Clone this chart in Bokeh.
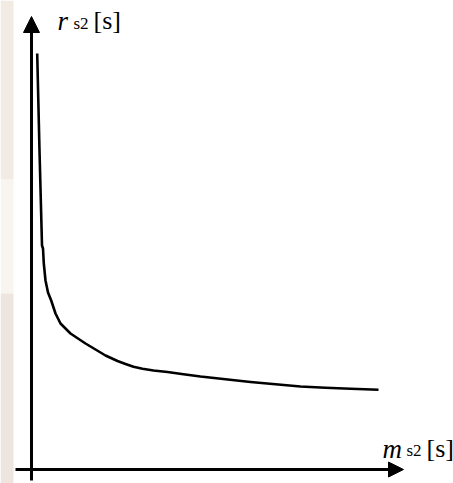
from bokeh.plotting import figure
from bokeh.models import Range1d, Arrow, NormalHead
from bokeh.core.properties import value
from bokeh.embed import file_html
from bokeh.resources import INLINE

# curve data (m_s2 vs r_s2), arbitrary units
ms2 = [5.7, 8, 10.5, 11.5, 12.3, 14, 16.5, 19.7, 24, 29, 39, 54, 74, 86, 94, 102, 111, 122, 136,
       152, 169, 194, 219, 244, 269, 294, 319, 347]
rs2 = [416, 319, 224, 221, 206, 189, 177, 169, 156, 146, 136, 126, 114, 108.5, 105.5, 102.7, 100.7,
       99, 97.5, 95.3, 93, 90.2, 87.5, 85.2, 83, 81.7, 80.7, 79.7]

# axis extents
x_axis_start, x_axis_end = -16, 372
y_axis_start, y_axis_end = -11, 453

x_label_parts = ["m", "s2", "[s]"]
y_label_parts = ["r", "s2", "[s]"]

W, H = 453, 483
p = figure(width=W, height=H, output_backend="svg", toolbar_location=None,
           x_range=Range1d(-31, 422), y_range=Range1d(-14, 469),
           min_border=0, min_border_left=0, min_border_right=0,
           min_border_top=0, min_border_bottom=0)
p.axis.visible = False
p.grid.visible = False
p.outline_line_color = None
p.background_fill_color = "white"
p.border_fill_color = "white"

# faint watermark strip at left edge
p.quad(left=[-31, -31, -31], right=[-18, -18, -18], bottom=[290, 176, -14], top=[469, 290, 176],
       fill_color=["#f2ebe4", "#f8f5f1", "#eee5de"], line_color=None)

# axes with arrow heads
p.add_layout(Arrow(x_start=0, y_start=y_axis_start, x_end=0, y_end=y_axis_end,
                   line_width=3, line_color="black",
                   end=NormalHead(size=16, fill_color="black", line_color="black", line_width=1)))
p.add_layout(Arrow(x_start=x_axis_start, y_start=0, x_end=x_axis_end, y_end=0,
                   line_width=3, line_color="black",
                   end=NormalHead(size=15, fill_color="black", line_color="black", line_width=1)))

# curve
p.line(ms2, rs2, line_width=2.6, line_color="black", line_join="round", line_cap="butt")

serif = value("Liberation Serif")
# y label
p.text(x=[26], y=[449], text=[y_label_parts[0]], text_font=serif, text_font_style="italic",
       text_font_size="27px", text_baseline="alphabetic", text_color="black")
p.text(x=[42], y=[446], text=[y_label_parts[1]], text_font=serif,
       text_font_size="17px", text_baseline="alphabetic", text_color="black")
p.text(x=[62], y=[449], text=[y_label_parts[2]], text_font=serif,
       text_font_size="26px", text_baseline="alphabetic", text_color="black")
# x label
p.text(x=[351], y=[21], text=[x_label_parts[0]], text_font=serif, text_font_style="italic",
       text_font_size="27px", text_baseline="alphabetic", text_color="black")
p.text(x=[375], y=[19], text=[x_label_parts[1]], text_font=serif,
       text_font_size="17px", text_baseline="alphabetic", text_color="black")
p.text(x=[395], y=[21], text=[x_label_parts[2]], text_font=serif,
       text_font_size="26px", text_baseline="alphabetic", text_color="black")

open("out.html", "w").write(file_html(p, INLINE))
